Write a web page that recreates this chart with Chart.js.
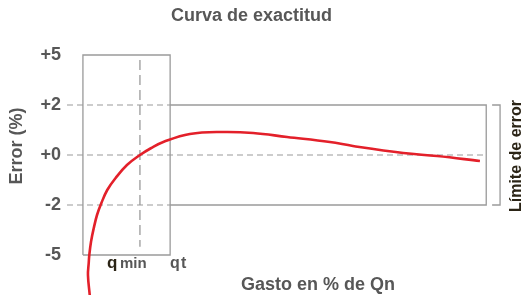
<!DOCTYPE html>
<html>
<head>
<meta charset="utf-8">
<script src="https://cdn.jsdelivr.net/npm/chart.js@4/dist/chart.umd.min.js"></script>
<style>
  body { margin: 0; background: #fff; }
  canvas { display: block; }
</style>
</head>
<body>
<canvas id="curva" width="523" height="300"></canvas>
<script>
// Datos de la curva (x: gasto, unidades del esquema; y: error en %)
// la curva arranca abajo y se dobla un poco hacia atras antes de subir
const gasto    = [5.42, 5.0, 5.18, 5.32, 5.73, 6.37, 7.16, 8.18, 9.6, 11.6, 14.3, 17.4, 20.0, 23.1, 29.3, 37.2, 44.4, 52.5, 62.7, 68.2, 80.2, 88.3, 98.5];
const errorPct = [-7.4, -6.2, -5.48, -5.0, -4.2, -3.4, -2.6, -1.93, -1.4, -0.92, -0.4, 0, 0.27, 0.53, 0.84, 0.92, 0.88, 0.72, 0.52, 0.36, 0.08, -0.04, -0.24];

// Eje Y no lineal: cada etiqueta ocupa una fila igual
const yTickValues = [-5, -2, 0, 2, 5];
const yTickLabels = ['-5', '-2', '+0', '+2', '+5'];

// Posiciones de referencia en el eje X
const xInicio = 3.8;   // borde izq. de la caja de arranque
const xQmin = 17.4;
const xQt = 24.6;
const xFin = 100;
const xLlave = [101.4, 103.3];

const GRIS = '#9a9a9a';
const TEXTO = '#575757';
const OSCURO = '#2b2416';
const ROJO = '#e3202a';
const FUENTE = '"Liberation Sans", Arial, Helvetica, sans-serif';

// % de error -> posición de fila (-2..2)
function toAxis(v) {
    const n = yTickValues.length;
    if (v <= yTickValues[0]) {
        const k = (yTickValues[1] - yTickValues[0]);
        return (v - yTickValues[0]) / k - 2;
    }
    for (let i = 0; i < n - 1; i++) {
        const a = yTickValues[i], b = yTickValues[i + 1];
        if (v <= b) return i - 2 + (v - a) / (b - a);
    }
    const k = yTickValues[n - 1] - yTickValues[n - 2];
    return 2 + (v - yTickValues[n - 1]) / k;
}
const pts = (xs, ys) => xs.map((x, i) => ({ x: x, y: toAxis(ys[i]) }));

function linea(data, opts) {
    return Object.assign({
        data: data,
        borderColor: GRIS,
        borderWidth: 1.3,
        pointRadius: 0,
        tension: 0,
        fill: false,
        clip: false
    }, opts || {});
}

const textos = {
    id: 'textos',
    afterDraw(chart) {
        const ctx = chart.ctx;
        ctx.save();
        ctx.fillStyle = TEXTO;
        ctx.font = 'bold 18px ' + FUENTE;
        ctx.textAlign = 'center';
        ctx.textBaseline = 'middle';
        ctx.fillText('Gasto en % de Qn', 318, 285);

        ctx.save();
        ctx.translate(17, 146);
        ctx.rotate(-Math.PI / 2);
        ctx.fillText('Error (%)', 0, 0);
        ctx.restore();

        ctx.save();
        ctx.fillStyle = OSCURO;
        ctx.font = 'bold 16px ' + FUENTE;
        ctx.translate(517, 156);
        ctx.rotate(-Math.PI / 2);
        ctx.fillText('Límite de error', 0, 0);
        ctx.restore();

        // etiquetas qmin / qt
        ctx.textAlign = 'left';
        ctx.textBaseline = 'alphabetic';
        ctx.fillStyle = OSCURO;
        ctx.font = 'bold 17px ' + FUENTE;
        ctx.fillText('q', 107, 268);
        ctx.fillStyle = TEXTO;
        ctx.font = 'bold 15px ' + FUENTE;
        ctx.fillText('min', 120, 268);
        ctx.font = 'bold 16px ' + FUENTE;
        ctx.fillText('q', 170, 268);
        ctx.fillText('t', 181, 268);
        ctx.restore();
    }
};

new Chart(document.getElementById('curva'), {
    type: 'line',
    data: {
        datasets: [
            linea(pts(gasto, errorPct), { borderColor: ROJO, borderWidth: 2.6, tension: 0.4 }),
            linea(pts([xInicio, xInicio, xQt, xQt, xInicio], [-5, 5, 5, -5, -5])),
            linea(pts([xQt, xFin, xFin, xQt], [2, 2, -2, -2])),
            linea(pts([xLlave[0], xLlave[1], xLlave[1], xLlave[0]], [2, 2, -2, -2])),
            linea(pts([0, xQt], [2, 2]), { borderDash: [6, 4], borderWidth: 1.1 }),
            linea(pts([0, xFin], [0, 0]), { borderDash: [6, 4], borderWidth: 1.1 }),
            linea(pts([0, xQt], [-2, -2]), { borderDash: [6, 4], borderWidth: 1.1 }),
            linea(pts([xQmin, xQmin], [4.7, -4.5]), { borderDash: [10, 5], borderWidth: 1.3 })
        ]
    },
    options: {
        responsive: false,
        animation: false,
        devicePixelRatio: 1,
        layout: { padding: { left: 0, right: 20, top: 0, bottom: 45 } },
        plugins: {
            legend: { display: false },
            tooltip: { enabled: false },
            title: {
                display: true,
                text: 'Curva de exactitud',
                color: TEXTO,
                font: { family: FUENTE, size: 18, weight: 'bold' },
                padding: { top: 5, bottom: 28.4 }
            }
        },
        scales: {
            x: {
                type: 'linear',
                min: 0,
                max: 104,
                display: false
            },
            y: {
                type: 'linear',
                min: -2,
                max: 2,
                grid: { display: false, drawTicks: false },
                border: { display: false },
                afterFit(scale) { scale.width = 67; },
                ticks: {
                    stepSize: 1,
                    padding: 6,
                    color: TEXTO,
                    font: { family: FUENTE, size: 18, weight: 'bold' },
                    callback: (v) => yTickLabels[Math.round(v) + 2]
                }
            }
        }
    },
    plugins: [textos]
});
</script>
</body>
</html>
